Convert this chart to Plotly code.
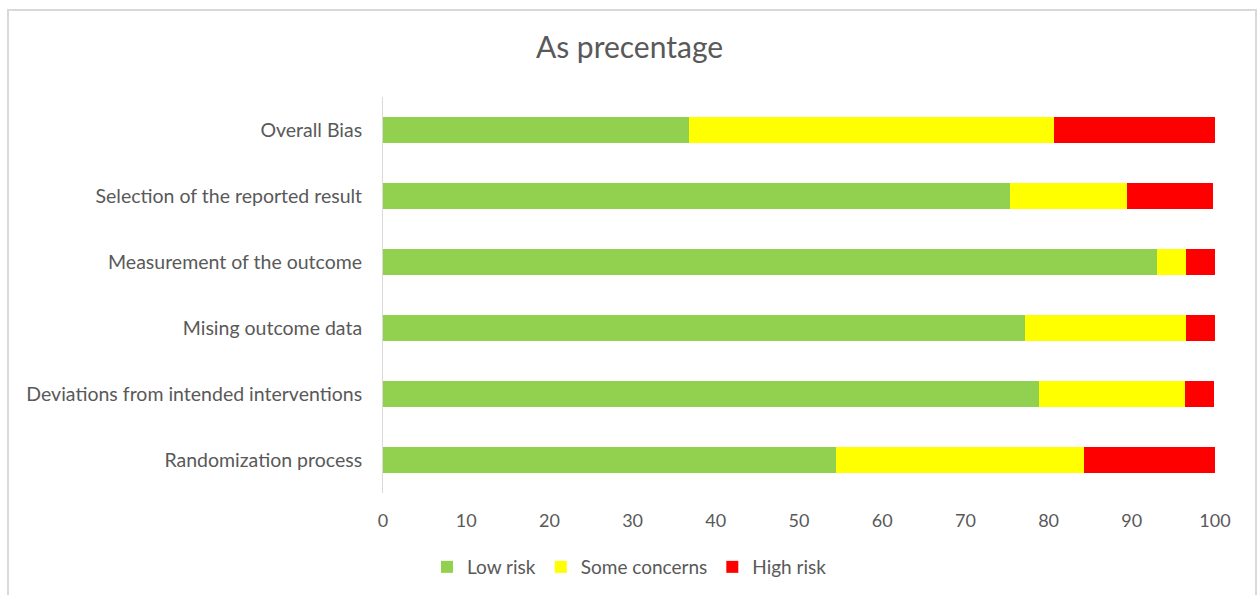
import plotly.graph_objects as go

# Risk-of-bias domains, listed bottom to top
domains = [
    "Randomization process",
    "Deviations from intended interventions",
    "Mising outcome data",
    "Measurement of the outcome",
    "Selection of the reported result",
    "Overall Bias",
]

# Share of studies per judgement (%)
low_risk = [54.4, 78.9, 77.2, 93.0, 75.4, 36.8]
some_concerns = [29.8, 17.5, 19.3, 3.5, 14.0, 43.9]
high_risk = [15.8, 3.5, 3.5, 3.5, 10.4, 19.3]

series = [
    ("Low risk", low_risk, "#92D050"),
    ("Some concerns", some_concerns, "#FFFF00"),
    ("High risk", high_risk, "#FF0000"),
]

x_ticks = list(range(0, 101, 10))

FONT = "Lato"
TEXT = "#595959"

fig = go.Figure()
for name, vals, color in series:
    fig.add_trace(
        go.Bar(
            y=domains,
            x=vals,
            name=name,
            orientation="h",
            marker=dict(color=color, line=dict(width=0)),
            hoverinfo="skip",
        )
    )

# plot area: 383..1215 px horizontally, 97..493 px vertically
L, R, T, B = 383, 44, 97, 102
W, H = 1259, 595
pw, ph = W - L - R, H - T - B


def px_x(p):
    return (p - L) / pw


def px_y(p):
    return (H - B - p) / ph


fig.update_layout(
    width=W,
    height=H,
    margin=dict(l=L, r=R, t=T, b=B),
    paper_bgcolor="white",
    plot_bgcolor="white",
    barmode="stack",
    bargap=0.6,
    font=dict(family=FONT, color=TEXT, size=19),
    title=dict(
        text="As precentage",
        x=0.5,
        xanchor="center",
        y=1 - 47 / H,
        yanchor="middle",
        font=dict(family=FONT, size=30, color=TEXT),
    ),
    legend=dict(
        orientation="h",
        xref="container",
        yref="container",
        x=0.5,
        xanchor="center",
        y=(H - 567) / H,
        yanchor="middle",
        font=dict(family=FONT, size=19, color=TEXT),
        itemwidth=30,
        traceorder="normal",
    ),
    xaxis=dict(
        range=[0, 100],
        tickvals=x_ticks,
        ticktext=[str(v) for v in x_ticks],
        showgrid=False,
        zeroline=False,
        showline=False,
        ticks="",
        ticklabelstandoff=15,
        tickfont=dict(family=FONT, size=18, color=TEXT),
        fixedrange=True,
    ),
    yaxis=dict(
        categoryorder="array",
        categoryarray=domains,
        showgrid=False,
        zeroline=False,
        showline=True,
        linecolor="#D9D9D9",
        linewidth=1,
        ticks="",
        ticklabelstandoff=16,
        tickfont=dict(family=FONT, size=19.5, color=TEXT),
        fixedrange=True,
    ),
    shapes=[
        dict(
            type="rect",
            xref="paper",
            yref="paper",
            x0=px_x(8),
            x1=px_x(1256),
            y0=px_y(610),
            y1=px_y(10),
            line=dict(color="#D9D9D9", width=2),
            fillcolor="rgba(0,0,0,0)",
            layer="below",
        )
    ],
)

fig.write_html("out.html", config={"displayModeBar": False})
